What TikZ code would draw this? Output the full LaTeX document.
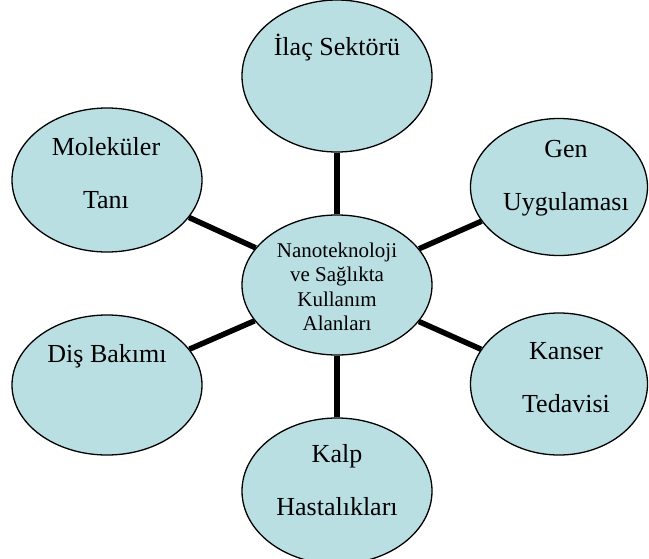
\documentclass[tikz,border=0pt]{standalone}
\usepackage{fontspec}
\setmainfont{Liberation Serif}
\usepackage{tikz}
\usetikzlibrary{shapes.geometric}
\definecolor{bubblecolor}{RGB}{185,223,227}
\tikzstyle{bubble} = [ellipse, 
    draw=black, 
    line width=1.3pt, 
    fill=bubblecolor, 
    minimum width=190pt, 
    minimum height=140pt, 
    inner sep=0pt]
\tikzstyle{outertext} = [font=\fontsize{26}{53}\selectfont, 
    align=center, 
    anchor=base, 
    inner sep=0pt]
\tikzstyle{centertext} = [font=\fontsize{21}{24.5}\selectfont, 
    align=center, 
    inner sep=0pt]
\tikzstyle{spoke} = [line width=5.5pt]

\begin{document}
\begin{tikzpicture}[x=1pt,y=-1pt]
\useasboundingbox (0,0) rectangle (649,558);

\node (nano) [bubble] at (337,285) {};
\node (ilac) [bubble, minimum height=152pt] at (337,76) {};
\node (gen) [bubble, minimum width=177pt, minimum height=137pt] at (559,187) {};
\node (kanser) [bubble, minimum width=177pt, minimum height=142pt] at (559,384) {};
\node (kalp) [bubble, minimum height=146pt] at (337,491) {};
\node (dis) [bubble] at (107,385) {};
\node (molekuler) [bubble, minimum height=144pt] at (107,180) {};

\draw [spoke] (ilac) -- (nano);
\draw [spoke] (gen) -- (nano);
\draw [spoke] (kanser) -- (nano);
\draw [spoke] (kalp) -- (nano);
\draw [spoke] (dis) -- (nano);
\draw [spoke] (molekuler) -- (nano);

% base = baseline of the last line
\node (nanoText) [centertext] at (337,287) {Nanoteknoloji\\ve Sağlıkta\\Kullanım\\Alanları};
\node (ilacText) [outertext] at (337,55) {İlaç Sektörü};
\node (genText) [outertext] at (566,210) {Gen\\Uygulaması};
\node (kanserText) [outertext] at (566,412) {Kanser\\Tedavisi};
\node (kalpText) [outertext] at (337,515) {Kalp\\Hastalıkları};
\node (disText) [outertext] at (107,362) {Diş Bakımı};
\node (molekulerText) [outertext] at (106,208) {Moleküler\\Tanı};

\end{tikzpicture}
\end{document}
